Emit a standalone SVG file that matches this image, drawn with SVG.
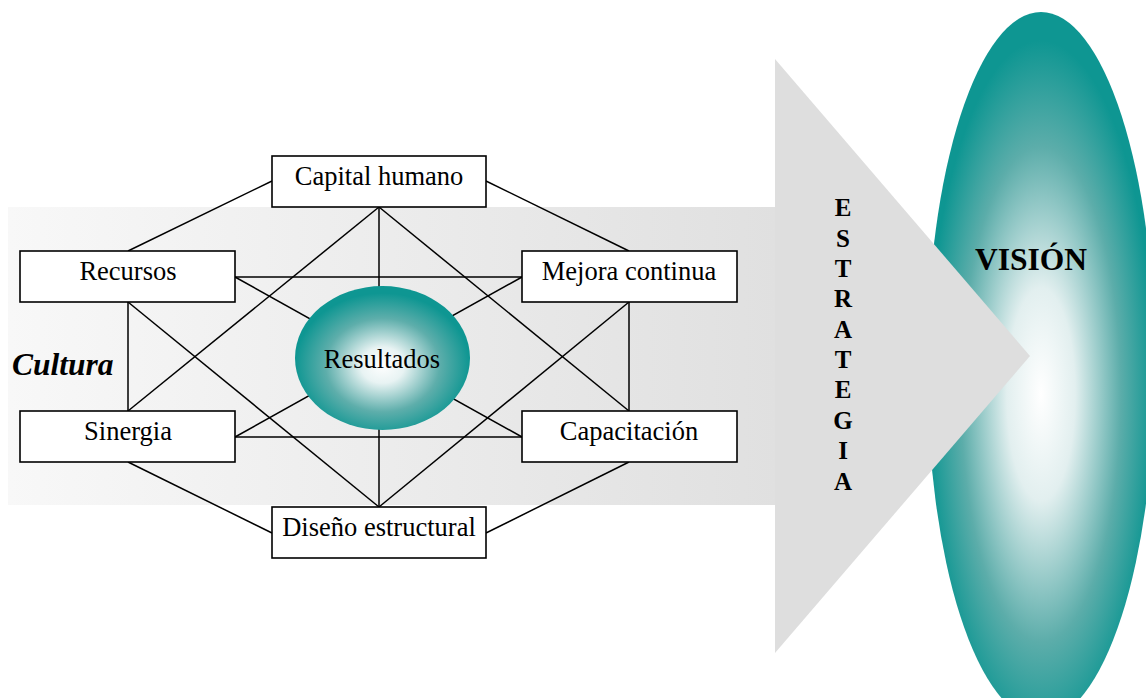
<svg xmlns="http://www.w3.org/2000/svg" width="1146" height="698" viewBox="0 0 1146 698">
  <defs>
    <linearGradient id="bodyGrad" x1="8" y1="0" x2="775" y2="0" gradientUnits="userSpaceOnUse">
      <stop offset="0" stop-color="#f8f8f8"/>
      <stop offset="1" stop-color="#e0e0e0"/>
    </linearGradient>
    <radialGradient id="visionGrad" cx="0.5" cy="0.54" r="0.5">
      <stop offset="0" stop-color="#ffffff"/>
      <stop offset="0.3" stop-color="#e2efef"/>
      <stop offset="0.7" stop-color="#5cadaa"/>
      <stop offset="1" stop-color="#0e9692"/>
    </radialGradient>
    <radialGradient id="resGrad" cx="0.5" cy="0.55" r="0.5">
      <stop offset="0" stop-color="#ffffff"/>
      <stop offset="0.25" stop-color="#e8f3f3"/>
      <stop offset="0.65" stop-color="#5eaeab"/>
      <stop offset="1" stop-color="#0e9692"/>
    </radialGradient>
    <style>
      .box { fill: #ffffff; stroke: #000000; stroke-width: 1.6; }
      .lbl { font-family: "Liberation Serif", "Times New Roman", serif; font-size: 26.5px; fill: #000000; text-anchor: middle; }
      .conn line { stroke: #000000; stroke-width: 1.5; }
      .vert { font-family: "Liberation Serif", "Times New Roman", serif; font-size: 25px; font-weight: bold; fill: #000000; text-anchor: middle; }
    </style>
  </defs>

  <g id="arrow">
    <rect x="8" y="207" width="767" height="298" fill="url(#bodyGrad)"/>
  </g>

  <g id="vision">
    <ellipse cx="1041" cy="366" rx="114" ry="354" fill="url(#visionGrad)"/>
  </g>

  <g id="arrowhead">
    <polygon points="775,59 1030,356 775,653" fill="#dedede"/>
  </g>

  <g id="estrategia">
    <text class="vert" x="843" y="216">E</text>
    <text class="vert" x="843" y="246.5">S</text>
    <text class="vert" x="843" y="276.8">T</text>
    <text class="vert" x="843" y="307.2">R</text>
    <text class="vert" x="843" y="337.6">A</text>
    <text class="vert" x="843" y="368">T</text>
    <text class="vert" x="843" y="398.4">E</text>
    <text class="vert" x="843" y="428.8">G</text>
    <text class="vert" x="843" y="459.2">I</text>
    <text class="vert" x="843" y="489.6">A</text>
  </g>

  <g id="vision-label">
    <text x="1031" y="270" font-family="Liberation Serif, Times New Roman, serif" font-size="31.5" font-weight="bold" text-anchor="middle" fill="#000">VISIÓN</text>
  </g>

  <g id="cultura">
    <text x="12" y="375" font-family="Liberation Serif, Times New Roman, serif" font-size="31.5" font-weight="bold" font-style="italic" fill="#000">Cultura</text>
  </g>

  <g id="connectors" class="conn">
    <line x1="272" y1="181" x2="128" y2="251"/>
    <line x1="486" y1="181" x2="629" y2="251"/>
    <line x1="379" y1="207" x2="128" y2="411"/>
    <line x1="379" y1="207" x2="629" y2="411"/>
    <line x1="379" y1="207" x2="379" y2="507"/>
    <line x1="235" y1="277" x2="522" y2="277"/>
    <line x1="235" y1="277" x2="522" y2="437"/>
    <line x1="522" y1="277" x2="235" y2="437"/>
    <line x1="235" y1="437" x2="522" y2="437"/>
    <line x1="128" y1="302" x2="128" y2="411"/>
    <line x1="128" y1="302" x2="379" y2="507"/>
    <line x1="629" y1="302" x2="629" y2="411"/>
    <line x1="629" y1="302" x2="379" y2="507"/>
    <line x1="128" y1="462" x2="272" y2="533"/>
    <line x1="629" y1="462" x2="486" y2="533"/>
  </g>

  <g id="resultados">
    <ellipse cx="382.5" cy="358" rx="87.5" ry="72" fill="url(#resGrad)"/>
    <text class="lbl" x="382" y="368">Resultados</text>
  </g>

  <g id="capital-humano">
    <rect class="box" x="272" y="156" width="214" height="51"/>
    <text class="lbl" x="379" y="185">Capital humano</text>
  </g>
  <g id="recursos">
    <rect class="box" x="20" y="251" width="215" height="51"/>
    <text class="lbl" x="128" y="280">Recursos</text>
  </g>
  <g id="mejora-continua">
    <rect class="box" x="522" y="251" width="215" height="51"/>
    <text class="lbl" x="629" y="280">Mejora continua</text>
  </g>
  <g id="sinergia">
    <rect class="box" x="20" y="411" width="215" height="51"/>
    <text class="lbl" x="128" y="440">Sinergia</text>
  </g>
  <g id="capacitacion">
    <rect class="box" x="522" y="411" width="215" height="51"/>
    <text class="lbl" x="629" y="440">Capacitación</text>
  </g>
  <g id="diseno-estructural">
    <rect class="box" x="272" y="507" width="214" height="51"/>
    <text class="lbl" x="379" y="536">Diseño estructural</text>
  </g>
</svg>
